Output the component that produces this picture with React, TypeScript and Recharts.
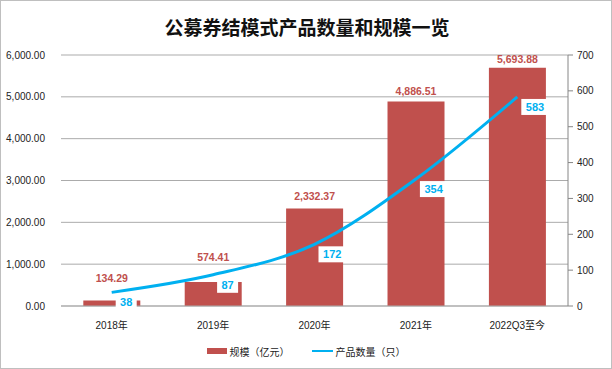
import * as React from 'react';
import {
  ComposedChart,
  Bar,
  Line,
  XAxis,
  YAxis,
  CartesianGrid,
  Legend,
} from 'recharts';

// ============================================================================
// Data
// ============================================================================

const categories = ['2018年', '2019年', '2020年', '2021年', '2022Q3至今'];
const scaleValues = [134.29, 574.41, 2332.37, 4886.51, 5693.88]; // 规模（亿元）
const countValues = [38, 87, 172, 354, 583]; // 产品数量（只）
const leftTicks = [0, 1000, 2000, 3000, 4000, 5000, 6000];
const rightTicks = [0, 100, 200, 300, 400, 500, 600, 700];

const data = categories.map((name, i) => ({
  name,
  scale: scaleValues[i],
  count: countValues[i],
}));

// ============================================================================
// Styles
// ============================================================================

const BAR_COLOR = '#C0504D';
const LINE_COLOR = '#00B0F0';
const GRID_COLOR = '#ABABAB';
const AXIS_FONT = '"Liberation Sans", "Noto Sans CJK SC", sans-serif';

// the first two bar labels sit higher so the line does not cross them
const barLabelLift = [18, 21, 8, 7, 5];

function formatAmount(value: number): string {
  return value.toLocaleString('en-US', {
    minimumFractionDigits: 2,
    maximumFractionDigits: 2,
  });
}

function BarLabel(props: any) {
  const { x, y, width, value, index } = props;
  return (
    <text
      x={x + width / 2}
      y={y - barLabelLift[index]}
      textAnchor="middle"
      fill={BAR_COLOR}
      fontSize={10.5}
      fontWeight="bold"
      fontFamily={AXIS_FONT}
    >
      {formatAmount(value)}
    </text>
  );
}

function LineLabel(props: any) {
  const { x, y, value } = props;
  const w = String(value).length * 6.5 + 8;
  return (
    <g>
      <rect x={x + 4} y={y + 2} width={w} height={16} fill="#fff" />
      <text
        x={x + 4 + w / 2}
        y={y + 14}
        textAnchor="middle"
        fill={LINE_COLOR}
        fontSize={11}
        fontWeight="bold"
        fontFamily={AXIS_FONT}
      >
        {value}
      </text>
    </g>
  );
}

function LegendContent() {
  return (
    <div
      style={{
        height: 30,
        display: 'flex',
        alignItems: 'center',
        justifyContent: 'center',
        fontSize: 10,
        fontFamily: '"Noto Sans CJK SC", sans-serif',
        color: '#222',
      }}
    >
      <span style={{ display: 'inline-block', width: 20, height: 6, background: BAR_COLOR, marginRight: 3 }} />
      <span style={{ marginRight: 22 }}>规模（亿元）</span>
      <span style={{ display: 'inline-block', width: 21, height: 2, background: LINE_COLOR, marginRight: 3 }} />
      <span>产品数量（只）</span>
    </div>
  );
}

// ============================================================================
// Component
// ============================================================================

export default function App() {
  return (
    <div
      style={{
        position: 'absolute',
        left: 0,
        top: 0,
        width: 612,
        height: 369,
        boxSizing: 'border-box',
        border: '1px solid #BFBFBF',
        background: '#fff',
      }}
    >
      <div
        style={{
          position: 'absolute',
          top: 12,
          left: 0,
          width: 612,
          textAlign: 'center',
          fontSize: 19,
          fontWeight: 'bold',
          fontFamily: '"Noto Sans CJK SC", serif',
          color: '#111',
        }}
      >
        公募券结模式产品数量和规模一览
      </div>
      <ComposedChart
        width={610}
        height={367}
        data={data}
        margin={{ top: 54, right: 0, left: 0, bottom: 2 }}
        barCategoryGap="22%"
      >
        <CartesianGrid vertical={false} stroke={GRID_COLOR} yAxisId="left" />
        <XAxis
          dataKey="name"
          height={30}
          tickLine={false}
          axisLine={{ stroke: GRID_COLOR }}
          tickMargin={10}
          tick={{ fontSize: 10, fill: '#222', fontFamily: AXIS_FONT }}
        />
        <YAxis
          yAxisId="left"
          domain={[0, 6000]}
          ticks={leftTicks}
          width={60}
          axisLine={false}
          tickLine={false}
          tickMargin={10}
          tickFormatter={formatAmount}
          tick={{ fontSize: 10, fill: '#222', fontFamily: AXIS_FONT }}
        />
        <YAxis
          yAxisId="right"
          orientation="right"
          domain={[0, 700]}
          ticks={rightTicks}
          width={43}
          axisLine={{ stroke: '#868686' }}
          tickLine={{ stroke: '#868686' }}
          tickSize={5}
          tickMargin={4}
          tick={{ fontSize: 10, fill: '#222', fontFamily: AXIS_FONT }}
        />
        <Legend verticalAlign="bottom" content={<LegendContent />} />
        <Bar
          yAxisId="left"
          dataKey="scale"
          fill={BAR_COLOR}
          isAnimationActive={false}
          label={<BarLabel />}
        />
        <Line
          yAxisId="right"
          dataKey="count"
          type="monotone"
          stroke={LINE_COLOR}
          strokeWidth={3}
          dot={false}
          activeDot={false}
          isAnimationActive={false}
          label={<LineLabel />}
        />
      </ComposedChart>
    </div>
  );
}
